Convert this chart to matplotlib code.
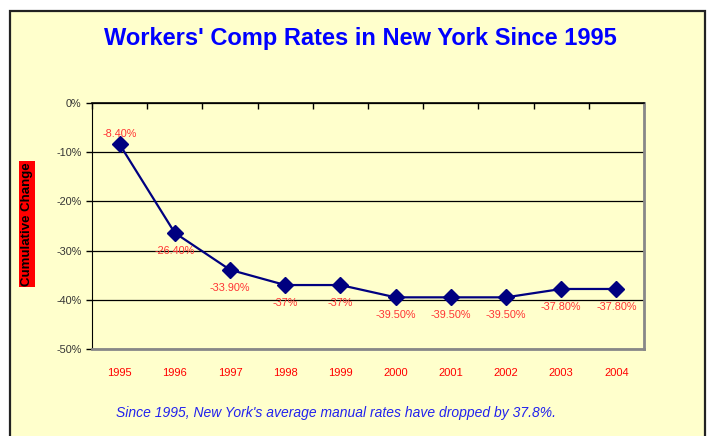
import matplotlib
matplotlib.use("Agg")
import matplotlib.pyplot as plt
from matplotlib.patches import Rectangle
from matplotlib.ticker import FixedLocator, PercentFormatter

years = ["1995", "1996", "1997", "1998", "1999", "2000", "2001", "2002", "2003", "2004"]
change = [-8.4, -26.4, -33.9, -37.0, -37.0, -39.5, -39.5, -39.5, -37.8, -37.8]
labels = ["-8.40%", "-26.40%", "-33.90%", "-37%", "-37%",
          "-39.50%", "-39.50%", "-39.50%", "-37.80%", "-37.80%"]
yticks = [0, -10, -20, -30, -40, -50]

BG = "#ffffcc"
NAVY = "#000080"
RED = "#ff3333"

plt.rcParams["font.family"] = ["Liberation Sans", "DejaVu Sans"]
plt.rcParams["axes.unicode_minus"] = False

fig = plt.figure(figsize=(7.07, 4.36), dpi=100)
fig.patch.set_facecolor("white")
# outer chart frame (bottom edge runs off the picture)
fig.patches.append(Rectangle((10 / 707, -0.05), 695 / 707, 1.05 - 11 / 436,
                             transform=fig.transFigure, facecolor=BG,
                             edgecolor="#222222", lw=1.6, zorder=-1))

ax = fig.add_axes([92 / 707, 1 - 349 / 436, 552 / 707, 246 / 436])
ax.set_facecolor(BG)
x = list(range(len(years)))
ax.plot(x, change, color=NAVY, lw=1.6, marker="D", ms=8.5, mfc=NAVY, mec=NAVY, zorder=3)

for i, (v, lab) in enumerate(zip(change, labels)):
    dy = 7.5 if i == 0 else -13
    ax.annotate(lab, (i, v), xytext=(0, dy), textcoords="offset points",
                ha="center", va="center", fontsize=7.8, color=RED)

ax.set_xlim(-0.5, len(years) - 0.5)
ax.set_ylim(-50, 0)
ax.set_yticks(yticks)
ax.yaxis.set_major_formatter(PercentFormatter(decimals=0))
ax.tick_params(axis="y", labelsize=7.8, labelcolor="#333333", length=4, width=1, color="black")
ax.grid(axis="y", color="black", lw=0.9)
ax.set_axisbelow(True)

ax.set_xticks(x)
ax.set_xticklabels(years)
ax.xaxis.set_minor_locator(FixedLocator([i - 0.5 for i in range(len(years) + 1)]))
ax.tick_params(axis="x", which="major", length=0, pad=14, labelsize=8, labelcolor="#ff0000")
ax.tick_params(axis="x", which="minor", top=True, bottom=False, direction="in",
               length=4, width=1, color="black")

ax.spines["left"].set_color("black")
ax.spines["top"].set_color("black")
ax.spines["top"].set_linewidth(1.2)
for s in ("bottom", "right"):
    ax.spines[s].set_color("#888888")
    ax.spines[s].set_linewidth(2)

fig.text(360 / 707, 1 - 38 / 436, "Workers' Comp Rates in New York Since 1995",
         ha="center", va="center", fontsize=17, fontweight="bold", color="#0000ff")

fig.text(27 / 707, 1 - 224 / 436, "Cumulative Change", rotation=90, ha="center",
         va="center", fontsize=9.5, fontweight="bold", color="black",
         bbox=dict(boxstyle="square,pad=0.12", fc="#ff0000", ec="none"))

fig.text(116 / 707, 1 - 413 / 436,
         "Since 1995, New York's average manual rates have dropped by 37.8%.",
         ha="left", va="center", fontsize=10, style="italic", color="#2222ee")

fig.savefig("out.png", dpi=100, facecolor="white")
